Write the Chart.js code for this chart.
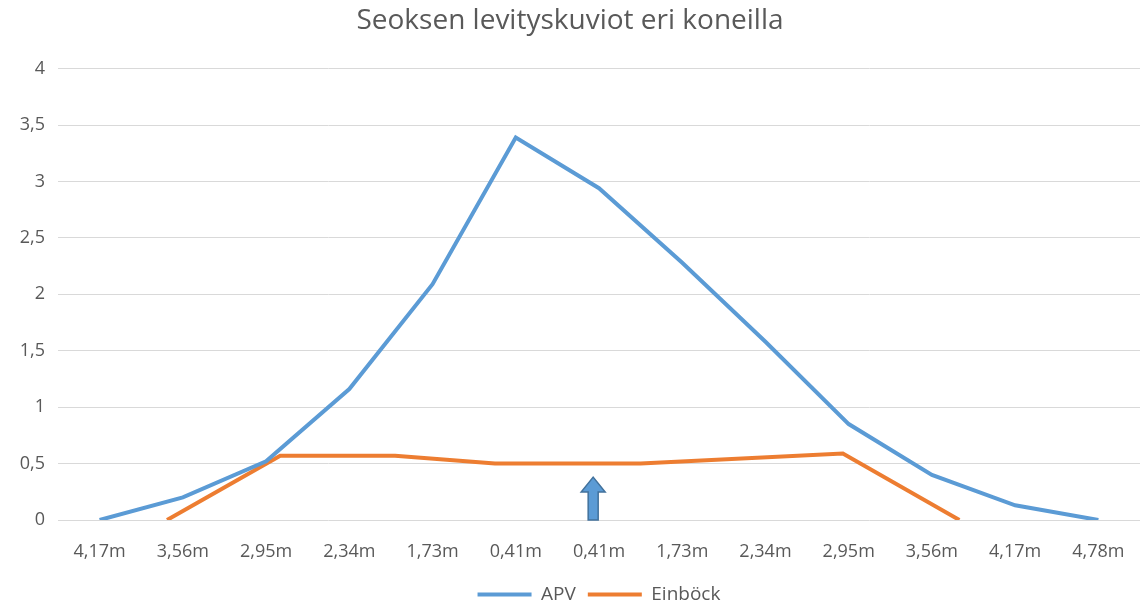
<!DOCTYPE html>
<html>
<head>
<meta charset="utf-8">
<script src="https://cdn.jsdelivr.net/npm/chart.js@4"></script>
<style>
  html, body { margin: 0; padding: 0; background: #fff; }
  #wrap { width: 1144px; height: 605px; }
</style>
</head>
<body>
<div id="wrap"><canvas id="myChart"></canvas></div>
<script>
// Kategoriat (x-akselin tekstit)
const etaisyydet = ['4,17m', '3,56m', '2,95m', '2,34m', '1,73m', '0,41m', '0,41m', '1,73m', '2,34m', '2,95m', '3,56m', '4,17m', '4,78m'];

// APV: yksi arvo per kategoria
const apvArvot = [0, 0.2, 0.52, 1.16, 2.09, 3.39, 2.94, 2.28, 1.58, 0.85, 0.4, 0.13, 0];

// Einböck: pisteet kategoria-asteikolla (x = kategorian indeksi)
const einbockX = [0.81, 2.17, 3.55, 4.75, 6.5, 8.93, 10.33];
const einbockY = [0, 0.57, 0.57, 0.5, 0.5, 0.59, 0];

// Nuolen paikka (kategoria-indeksi ja korkeus)
const nuoliX = 5.93;
const nuoliY = 0.38;

const yTicks = [0, 0.5, 1, 1.5, 2, 2.5, 3, 3.5, 4];

const teksti = '#595959';
const fontti = "'Open Sans', sans-serif";

// piirretään sininen nuoli kaavion päälle
const nuoliPlugin = {
    id: 'nuoli',
    afterDatasetsDraw(chart) {
        const ctx = chart.ctx;
        const xs = chart.scales.x, ys = chart.scales.y;
        const cx = xs.getPixelForValue(nuoliX);
        const top = ys.getPixelForValue(nuoliY);
        const bottom = ys.getPixelForValue(0);
        const headH = 15, headW = 12, shaftW = 5;
        ctx.save();
        ctx.beginPath();
        ctx.moveTo(cx, top);
        ctx.lineTo(cx + headW, top + headH);
        ctx.lineTo(cx + shaftW, top + headH);
        ctx.lineTo(cx + shaftW, bottom);
        ctx.lineTo(cx - shaftW, bottom);
        ctx.lineTo(cx - shaftW, top + headH);
        ctx.lineTo(cx - headW, top + headH);
        ctx.closePath();
        ctx.fillStyle = '#5B9BD5';
        ctx.fill();
        ctx.strokeStyle = '#41719C';
        ctx.lineWidth = 1.5;
        ctx.stroke();
        ctx.restore();
    }
};

const chartData = {
    datasets: [{
        label: 'APV',
        data: apvArvot.map((v, i) => ({ x: i, y: v })),
        borderColor: '#5B9BD5',
        backgroundColor: '#5B9BD5',
        borderWidth: 4,
        pointRadius: 0,
        tension: 0
    }, {
        label: 'Einböck',
        data: einbockX.map((x, i) => ({ x: x, y: einbockY[i] })),
        borderColor: '#ED7D31',
        backgroundColor: '#ED7D31',
        borderWidth: 4,
        pointRadius: 0,
        tension: 0
    }]
};

const ctx = document.getElementById('myChart').getContext('2d');
new Chart(ctx, {
    type: 'line',
    data: chartData,
    plugins: [nuoliPlugin],
    options: {
        responsive: true,
        maintainAspectRatio: false,
        animation: false,
        layout: { padding: { left: 0, right: 4, top: 4, bottom: -9 } },
        plugins: {
            title: {
                display: true,
                text: 'Seoksen levityskuviot eri koneilla',
                color: teksti,
                font: { family: fontti, size: 28, weight: 'normal' },
                padding: { top: 0, bottom: 31 }
            },
            legend: {
                position: 'bottom',
                fullSize: false,
                labels: {
                    usePointStyle: true,
                    pointStyle: 'line',
                    pointStyleWidth: 54,
                    color: teksti,
                    font: { family: fontti, size: 19 },
                    padding: 12
                }
            },
            tooltip: { enabled: false }
        },
        scales: {
            x: {
                type: 'linear',
                min: -0.5,
                max: etaisyydet.length - 0.5,
                afterBuildTicks: axis => {
                    axis.ticks = etaisyydet.map((c, i) => ({ value: i }));
                },
                afterFit: axis => { axis.height = 53; },
                ticks: {
                    autoSkip: false,
                    maxRotation: 0,
                    color: teksti,
                    font: { family: fontti, size: 18 },
                    padding: 13,
                    callback: v => etaisyydet[v]
                },
                grid: { display: false },
                border: { display: false }
            },
            y: {
                min: 0,
                max: 4,
                afterBuildTicks: axis => {
                    axis.ticks = yTicks.map(v => ({ value: v }));
                },
                afterFit: axis => { axis.width = 58; },
                ticks: {
                    color: teksti,
                    font: { family: fontti, size: 18 },
                    padding: 13,
                    callback: v => String(v).replace('.', ',')
                },
                grid: { color: '#d9d9d9', lineWidth: 1, drawTicks: false },
                border: { display: false }
            }
        }
    }
});
</script>
</body>
</html>
